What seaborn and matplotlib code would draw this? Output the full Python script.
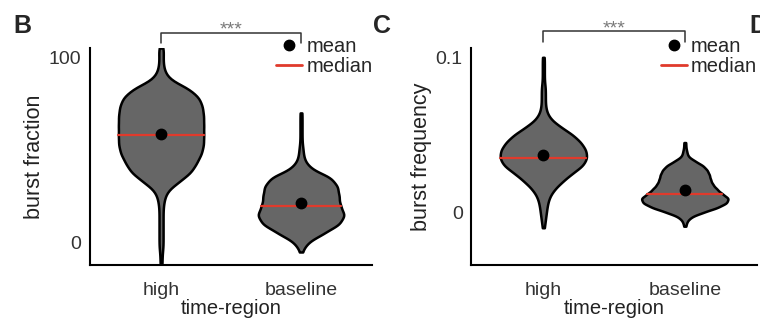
import numpy as np
import pandas as pd
import matplotlib
matplotlib.use("Agg")
import matplotlib.pyplot as plt
from matplotlib.lines import Line2D
import seaborn as sns

# 値ごとの度数
regions = ["high", "baseline"]

frac_high_vals = [105, 103, 98, 93, 88, 83, 78, 73, 68, 63, 58, 53, 48, 43, 38, 33, 28, 23, 18, 13, 8, 3, -2, -7, -12]
frac_high_cnts = [1, 2, 2, 3, 8, 28, 38, 41, 42, 42, 42, 42, 40, 35, 30, 18, 6, 3, 2, 2, 2, 2, 2, 1, 1]
frac_base_vals = [70, 65, 60, 55, 50, 45, 40, 35, 30, 25, 20, 15, 10, 5, 0, -5]
frac_base_cnts = [1, 1, 1, 1, 2, 3, 9, 30, 36, 37, 38, 43, 38, 22, 6, 1]

freq_high_vals = [0.100, 0.095, 0.090, 0.085, 0.080, 0.075, 0.070, 0.065, 0.060, 0.055, 0.050, 0.045,
                  0.040, 0.035, 0.030, 0.025, 0.020, 0.015, 0.010, 0.005, 0.000, -0.005, -0.010]
freq_high_cnts = [1, 1, 1, 1, 2, 2, 2, 3, 7, 17, 29, 37, 42, 43, 39, 28, 19, 11, 6, 4, 3, 2, 1]
freq_base_vals = [0.045, 0.042, 0.039, 0.036, 0.033, 0.030, 0.027, 0.024, 0.021, 0.018, 0.015, 0.012,
                  0.009, 0.006, 0.003, 0.000, -0.003, -0.006, -0.009]
freq_base_cnts = [1, 1, 2, 3, 10, 18, 22, 24, 25, 27, 31, 36, 43, 41, 32, 18, 6, 2, 1]

FILL = "#666666"
RED = "#e03a2c"

sns.set_style("white")
plt.rcParams['font.family'] = ['Liberation Sans', 'DejaVu Sans']


def make_df(vals, cnts, region):
    return pd.DataFrame({"region": region, "value": np.repeat(vals, cnts)})


def draw_violin(ax, df, bw):
    n_before = len(ax.lines)
    sns.violinplot(data=df, x="region", y="value", order=regions, ax=ax, color=FILL, saturation=1,
                   inner="quart", cut=0, density_norm="width", width=0.61, bw_method=bw,
                   linewidth=1.8, linecolor="black")
    new_lines = ax.lines[n_before:]
    # 四分位線のうち中央値だけ残して赤にする
    for i, ln in enumerate(new_lines):
        if i == 1:
            ln.set_color(RED)
            ln.set_linestyle("-")
            ln.set_linewidth(1.6)
            ln.set_zorder(4)
        else:
            ln.remove()
    pos = regions.index(df["region"].iloc[0])
    ax.plot(pos, df["value"].mean(), "o", color="black", ms=7.5, zorder=5)


def setup_axis(ax, ylabel, ylim, yticks, yticklabels, bracket_y, bracket_h):
    ax.set_xlim(-0.51, 1.51)
    ax.set_ylim(*ylim)
    ax.set_yticks(yticks)
    ax.set_yticklabels(yticklabels)
    ax.set_xticks([0, 1])
    ax.set_xticklabels(regions)
    ax.tick_params(axis="both", length=0, labelsize=14, colors="#333333")
    ax.tick_params(axis="x", pad=12)
    ax.tick_params(axis="y", pad=6)
    ax.set_xlabel("time-region", fontsize=14.5, labelpad=0, color="#222222")
    ax.set_ylabel(ylabel, fontsize=15.5, labelpad=3, color="#222222")
    for s in ["top", "right"]:
        ax.spines[s].set_visible(False)
    for s in ["left", "bottom"]:
        ax.spines[s].set_color("black")
        ax.spines[s].set_linewidth(1.5)
    # 有意差のブラケット
    ax.plot([0, 0, 1, 1], [bracket_y - bracket_h, bracket_y, bracket_y, bracket_y - bracket_h],
            color="#333333", lw=1.1, clip_on=False)
    ax.annotate("***", xy=(0.5, bracket_y), xytext=(0, 2), textcoords="offset points",
                ha="center", va="center", fontsize=14, color="#7a7a7a", annotation_clip=False)
    handles = [Line2D([], [], marker="o", color="black", linestyle="None", ms=7.5, label="mean"),
               Line2D([], [], color=RED, lw=2, label="median")]
    ax.legend(handles=handles, loc="upper right", bbox_to_anchor=(1.0, 1.05), frameon=False,
              fontsize=14.5, handlelength=1.3, handletextpad=0.2, labelspacing=0.05,
              borderaxespad=0, borderpad=0, markerfirst=True)


fig = plt.figure(figsize=(7.6, 3.2), dpi=100)
ax_b = fig.add_axes([0.118, 0.172, 0.372, 0.678])
ax_c = fig.add_axes([0.620, 0.172, 0.376, 0.678])

draw_violin(ax_b, make_df(frac_high_vals, frac_high_cnts, "high"), 0.17)
draw_violin(ax_b, make_df(frac_base_vals, frac_base_cnts, "baseline"), 0.24)
setup_axis(ax_b, "burst fraction", (-12, 105), [0, 100], ["0", "100"], 113, 5.5)

draw_violin(ax_c, make_df(freq_high_vals, freq_high_cnts, "high"), 0.2)
draw_violin(ax_c, make_df(freq_base_vals, freq_base_cnts, "baseline"), 0.17)
setup_axis(ax_c, "burst frequency", (-0.034, 0.106), [0, 0.1], ["0", "0.1"], 0.1168, 0.0071)

for x, letter in [(0.017, "B"), (0.491, "C"), (0.986, "D")]:
    fig.text(x, 0.897, letter, fontsize=18, fontweight="bold", va="baseline", ha="left")

fig.savefig("out.png", dpi=100)
